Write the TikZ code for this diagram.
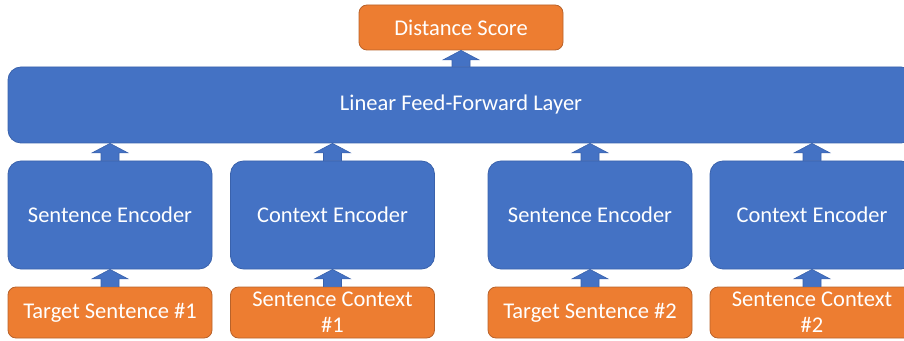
\documentclass[tikz,border=0pt]{standalone}
\usepackage{fontspec}
\setmainfont{Carlito}
\usetikzlibrary{calc}
\definecolor{cblue}{HTML}{4472C4}
\definecolor{cblueb}{HTML}{3A62AC}
\definecolor{corange}{HTML}{ED7D31}
\definecolor{coranged}{HTML}{B8622A}
\tikzset{
  box/.style={draw, line width=0.8pt, text=white, align=center,
    font=\fontsize{22.5}{26}\selectfont, inner sep=0pt, minimum width=204pt},
  bluebox/.style={box, fill=cblue, draw=cblueb, rounded corners=13pt},
  orangebox/.style={box, fill=corange, draw=coranged, rounded corners=8pt, minimum height=51pt},
  arrowfill/.style={fill=cblue, draw=cblueb, line width=0.6pt}
}
\newcommand\blockarr[2]{%
  \filldraw[arrowfill] let \p1=(#1), \p2=(#2) in
    (\x1-9pt,\y1) -- (\x1-9pt,\y2-9.5pt) -- (\x1-18pt,\y2-9.5pt) -- (\x1,\y2)
    -- (\x1+18pt,\y2-9.5pt) -- (\x1+9pt,\y2-9.5pt) -- (\x1+9pt,\y1) -- cycle;}
\begin{document}
\begin{tikzpicture}[x=1pt,y=1pt]
\useasboundingbox (0,0) rectangle (904,340);
\clip (0,0) rectangle (904,340);
\node[orangebox, minimum height=45pt, rounded corners=8pt] (score) at (461,312.5) {Distance Score};
\node[bluebox, minimum width=906pt, minimum height=76pt] (lin) at (461,235) {Linear Feed-Forward Layer};
\node[bluebox, minimum height=108pt] (se1) at (110,125) {Sentence Encoder};
\node[bluebox, minimum height=108pt] (ce1) at (332.5,125) {Context Encoder};
\node[bluebox, minimum height=108pt] (se2) at (590,125) {Sentence Encoder};
\node[bluebox, minimum height=108pt] (ce2) at (812,125) {Context Encoder};
\node[orangebox] (ts1) at (110,27.5) {Target Sentence \#1};
\node[orangebox] (sc1) at (332.5,27.5) {Sentence Context\\\#1};
\node[orangebox] (ts2) at (590,27.5) {Target Sentence \#2};
\node[orangebox] (sc2) at (812,27.5) {Sentence Context\\\#2};
\blockarr{lin.north}{score.south}
\blockarr{se1.north}{lin.south}
\blockarr{ce1.north}{lin.south}
\blockarr{se2.north}{lin.south}
\blockarr{ce2.north}{lin.south}
\blockarr{ts1.north}{se1.south}
\blockarr{sc1.north}{ce1.south}
\blockarr{ts2.north}{se2.south}
\blockarr{sc2.north}{ce2.south}
\end{tikzpicture}
\end{document}
